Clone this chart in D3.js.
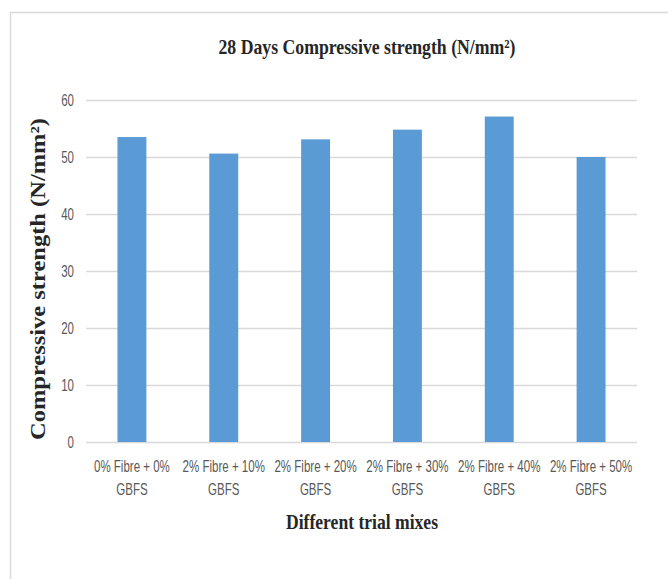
<!DOCTYPE html>
<html lang="en">
<head>
<meta charset="utf-8">
<style>
  body { margin: 0; background: #fff; }
  svg { display: block; }
</style>
</head>
<body>
<script src="https://cdn.jsdelivr.net/npm/d3@7"></script>
<div id="chart"></div>
<script>

// data
var mixes = ["0% Fibre + 0% GBFS", "2% Fibre + 10% GBFS", "2% Fibre + 20% GBFS",
             "2% Fibre + 30% GBFS", "2% Fibre + 40% GBFS", "2% Fibre + 50% GBFS"];
var mixLines = [["0% Fibre + 0%", "GBFS"], ["2% Fibre + 10%", "GBFS"], ["2% Fibre + 20%", "GBFS"],
                ["2% Fibre + 30%", "GBFS"], ["2% Fibre + 40%", "GBFS"], ["2% Fibre + 50%", "GBFS"]];
var strength = [53.5, 50.6, 53.1, 54.8, 57.1, 50.0];
var yTicks = [0, 10, 20, 30, 40, 50, 60];

var width = 668, height = 579;
var margin = {top: 100, right: 31, bottom: 137, left: 86};
var narrow = 0.72;   // the picture uses a condensed sans, squeeze the glyphs

var svg = d3.select("#chart").append("svg")
    .attr("width", width)
    .attr("height", height);

// chart area frame
svg.append("rect")
   .attr("x", 10.5).attr("y", 12.5)
   .attr("width", width + 20).attr("height", height + 20)
   .attr("fill", "#fff")
   .attr("stroke", "#d9d9d9")
   .attr("stroke-width", 1.5);

var x = d3.scaleBand()
    .domain(mixes)
    .range([margin.left, width - margin.right])
    .paddingInner(0.685)
    .paddingOuter(0.3425);

var y = d3.scaleLinear()
    .domain([0, 60])
    .range([height - margin.bottom, margin.top]);

// gridlines
var yAxis = svg.append("g")
   .attr("transform", `translate(${margin.left},0)`)
   .call(d3.axisLeft(y).tickValues(yTicks)
           .tickSize(-(width - margin.left - margin.right))
           .tickFormat(""));
yAxis.select(".domain").remove();
yAxis.selectAll(".tick line").attr("stroke", "#d9d9d9").attr("stroke-width", 1.5);

// y labels, squeezed horizontally like the condensed font in the picture
svg.append("g")
   .selectAll("text")
   .data(yTicks)
   .enter()
   .append("text")
   .attr("transform", function(d){ return `translate(74,${y(d)}) scale(${narrow},1)`; })
   .attr("dy", "0.35em")
   .attr("text-anchor", "end")
   .attr("fill", "#595959")
   .style("font-family", "'Liberation Sans', Arial, sans-serif")
   .style("font-size", "16px")
   .text(function(d){ return d; });

// bars
svg.append("g")
   .selectAll("rect")
   .data(strength)
   .enter()
   .append("rect")
   .attr("x", function(d, i){ return x(mixes[i]); })
   .attr("y", function(d){ return y(d); })
   .attr("width", x.bandwidth())
   .attr("height", function(d){ return y(0) - y(d); })
   .attr("fill", "#5b9bd5");

// x category labels (two lines each)
mixLines.forEach(function(lines, i){
  var cx = x(mixes[i]) + x.bandwidth() / 2;
  svg.append("g")
     .selectAll("text")
     .data(lines)
     .enter()
     .append("text")
     .attr("transform", function(d, j){ return `translate(${cx},${472 + j * 23}) scale(${narrow},1)`; })
     .attr("text-anchor", "middle")
     .attr("fill", "#595959")
     .style("font-family", "'Liberation Sans', Arial, sans-serif")
     .style("font-size", "16px")
     .text(function(d){ return d; });
});

// chart title
svg.append("text")
   .attr("x", 367)
   .attr("y", 54)
   .attr("text-anchor", "middle")
   .attr("fill", "#262626")
   .attr("textLength", 297)
   .attr("lengthAdjust", "spacingAndGlyphs")
   .style("font-family", "'Liberation Serif', 'Times New Roman', serif")
   .style("font-weight", "bold")
   .style("font-size", "22px")
   .text("28 Days Compressive strength (N/mm²)");

// x axis title
svg.append("text")
   .attr("x", 362)
   .attr("y", 529)
   .attr("text-anchor", "middle")
   .attr("fill", "#262626")
   .attr("textLength", 152)
   .attr("lengthAdjust", "spacingAndGlyphs")
   .style("font-family", "'Liberation Serif', 'Times New Roman', serif")
   .style("font-weight", "bold")
   .style("font-size", "22px")
   .text("Different trial mixes");

// y axis title
svg.append("text")
   .attr("transform", "translate(45,279) rotate(-90)")
   .attr("text-anchor", "middle")
   .attr("fill", "#262626")
   .attr("textLength", 322)
   .attr("lengthAdjust", "spacingAndGlyphs")
   .style("font-family", "'Liberation Serif', 'Times New Roman', serif")
   .style("font-weight", "bold")
   .style("font-size", "22px")
   .text("Compressive strength (N/mm²)");

</script>
</body>
</html>
